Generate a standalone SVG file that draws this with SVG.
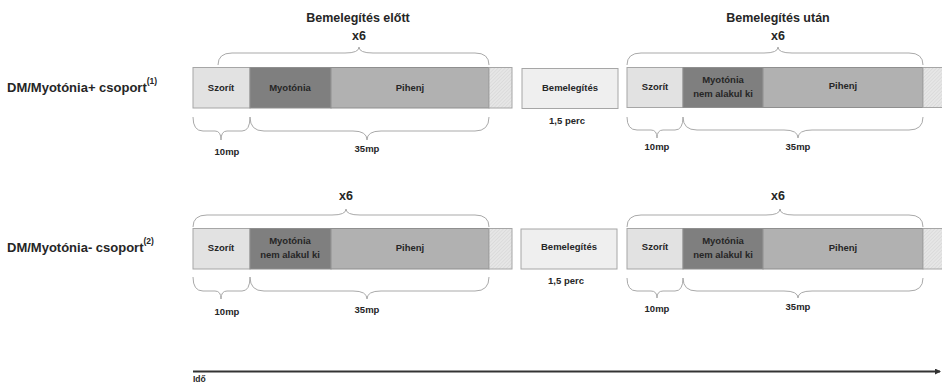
<svg xmlns="http://www.w3.org/2000/svg" width="942" height="384" viewBox="0 0 942 384">
<defs>
<pattern id="hatch" width="2.5" height="2.5" patternUnits="userSpaceOnUse" patternTransform="rotate(45)">
<rect width="2.5" height="2.5" fill="#e6e6e6"/>
<line x1="0" y1="0" x2="0" y2="2.5" stroke="#cdcdcd" stroke-width="0.8"/>
</pattern>
<marker id="arr" markerWidth="6" markerHeight="6" refX="5" refY="3" orient="auto" markerUnits="userSpaceOnUse">
<path d="M0,0 L6,3 L0,6 Z" fill="#333"/>
</marker>
<style>
text{font-family:"Liberation Sans",Arial,sans-serif;font-weight:bold;fill:#262626;text-anchor:middle}
.h{font-size:12.5px}
.lbl{font-size:13px;text-anchor:start}
.sup{font-size:8.5px}
.s{font-size:9.5px}
.d{font-size:9.5px}
.sz{fill:#e2e2e2;stroke:#a6a6a6;stroke-width:1}
.my{fill:#7f7f7f;stroke:#8f8f8f;stroke-width:1}
.ph{fill:#b1b1b1;stroke:#8f8f8f;stroke-width:1}
.ht{fill:url(#hatch);stroke:#a6a6a6;stroke-width:1}
.bm{fill:#efefef;stroke:#a6a6a6;stroke-width:1}
.br{fill:none;stroke:#a9a9a9;stroke-width:1}
</style>
</defs>
<rect width="942" height="384" fill="#ffffff"/>

<g id="labels">
<text class="lbl" x="7" y="92">DM/Myotónia+ csoport<tspan class="sup" dy="-8">(1)</tspan></text>
<text class="lbl" x="7" y="252">DM/Myotónia- csoport<tspan class="sup" dy="-8">(2)</tspan></text>
<text class="h" x="358" y="22">Bemelegítés előtt</text>
<text class="h" x="359" y="40">x6</text>
<text class="h" x="778" y="22">Bemelegítés után</text>
<text class="h" x="778" y="40">x6</text>
<text class="h" x="346" y="200">x6</text>
<text class="h" x="778" y="200">x6</text>
</g>

<g id="row1-before">
<rect class="sz" x="193" y="67.5" width="57" height="40.5"/>
<rect class="my" x="250" y="67.5" width="81" height="40.5"/>
<rect class="ph" x="331" y="67.5" width="158" height="40.5"/>
<rect class="ht" x="489" y="67.5" width="23" height="40.5"/>
<text class="s" x="221" y="91">Szorít</text>
<text class="s" x="290" y="91">Myotónia</text>
<text class="s" x="410" y="91">Pihenj</text>
</g>

<g id="row1-warmup">
<rect class="bm" x="522" y="68.5" width="96" height="40"/>
<text class="s" x="570" y="91">Bemelegítés</text>
<text class="d" x="567" y="124">1,5 perc</text>
</g>

<g id="row1-after">
<rect class="sz" x="627" y="67.5" width="56" height="40"/>
<rect class="my" x="683" y="67.5" width="80" height="40"/>
<rect class="ph" x="763" y="67.5" width="160" height="40"/>
<rect class="ht" x="923" y="67.5" width="22" height="40"/>
<text class="s" x="655" y="90">Szorít</text>
<text class="s" x="723" y="83">Myotónia</text>
<text class="s" x="723" y="97">nem alakul ki</text>
<text class="s" x="843" y="89">Pihenj</text>
</g>

<g id="row2-before">
<rect class="sz" x="193" y="228.5" width="57" height="40.5"/>
<rect class="my" x="250" y="228.5" width="81" height="40.5"/>
<rect class="ph" x="331" y="228.5" width="158" height="40.5"/>
<rect class="ht" x="489" y="228.5" width="23" height="40.5"/>
<text class="s" x="221" y="251">Szorít</text>
<text class="s" x="290" y="244">Myotónia</text>
<text class="s" x="290" y="258">nem alakul ki</text>
<text class="s" x="410" y="251">Pihenj</text>
</g>

<g id="row2-warmup">
<rect class="bm" x="521" y="229" width="96" height="40"/>
<text class="s" x="569" y="250">Bemelegítés</text>
<text class="d" x="566" y="284">1,5 perc</text>
</g>

<g id="row2-after">
<rect class="sz" x="627" y="228.5" width="56" height="40.5"/>
<rect class="my" x="683" y="228.5" width="80" height="40.5"/>
<rect class="ph" x="763" y="228.5" width="160" height="40.5"/>
<rect class="ht" x="923" y="228.5" width="22" height="40.5"/>
<text class="s" x="655" y="250">Szorít</text>
<text class="s" x="723" y="244">Myotónia</text>
<text class="s" x="723" y="258">nem alakul ki</text>
<text class="s" x="843" y="251">Pihenj</text>
</g>

<g id="durations">
<text class="d" x="227" y="155">10mp</text>
<text class="d" x="367" y="152">35mp</text>
<text class="d" x="657" y="150">10mp</text>
<text class="d" x="798" y="150">35mp</text>
<text class="d" x="227" y="315">10mp</text>
<text class="d" x="367" y="313">35mp</text>
<text class="d" x="657" y="312">10mp</text>
<text class="d" x="798" y="310">35mp</text>
<text style="font-size:8.5px;text-anchor:start" x="193" y="382">Idő</text>
</g>

<g id="connectors">
<path class="br" d="M218,65 Q218,53 232,53 L345,53 Q359,53 359,47 Q359,53 373,53 L475,53 Q489,53 489,65"/>
<path class="br" d="M627,65 Q627,53 641,53 L764,53 Q778,53 778,47 Q778,53 792,53 L909,53 Q923,53 923,65"/>
<path class="br" d="M193,227 Q193,215 207,215 L332,215 Q346,215 346,209 Q346,215 360,215 L475,215 Q489,215 489,227"/>
<path class="br" d="M627,227 Q627,215 641,215 L766,215 Q780,215 780,209 Q780,215 794,215 L909,215 Q923,215 923,227"/>
<path class="br" d="M193,117 Q193,131 203,131 L215,131 Q221,131 221,140 Q221,131 227,131 L242,131 Q250,131 250,117"/>
<path class="br" d="M250,117 Q250,131 264,131 L353,131 Q367,131 367,140 Q367,131 381,131 L475,131 Q489,131 489,117"/>
<path class="br" d="M627,117 Q627,130 637,130 L651,130 Q657,130 657,138 Q657,130 663,130 L675,130 Q683,130 683,117"/>
<path class="br" d="M683,117 Q683,130 697,130 L784,130 Q798,130 798,138 Q798,130 812,130 L909,130 Q923,130 923,117"/>
<path class="br" d="M193,277 Q193,291 203,291 L215,291 Q221,291 221,299 Q221,291 227,291 L242,291 Q250,291 250,277"/>
<path class="br" d="M250,277 Q250,291 264,291 L353,291 Q367,291 367,299 Q367,291 381,291 L475,291 Q489,291 489,277"/>
<path class="br" d="M627,278 Q627,291 637,291 L651,291 Q657,291 657,298 Q657,291 663,291 L675,291 Q683,291 683,278"/>
<path class="br" d="M683,278 Q683,291 697,291 L784,291 Q798,291 798,298 Q798,291 812,291 L909,291 Q923,291 923,278"/>
<line x1="193" y1="371.5" x2="940" y2="371.5" stroke="#333" stroke-width="2" marker-end="url(#arr)"/>
</g>
</svg>
